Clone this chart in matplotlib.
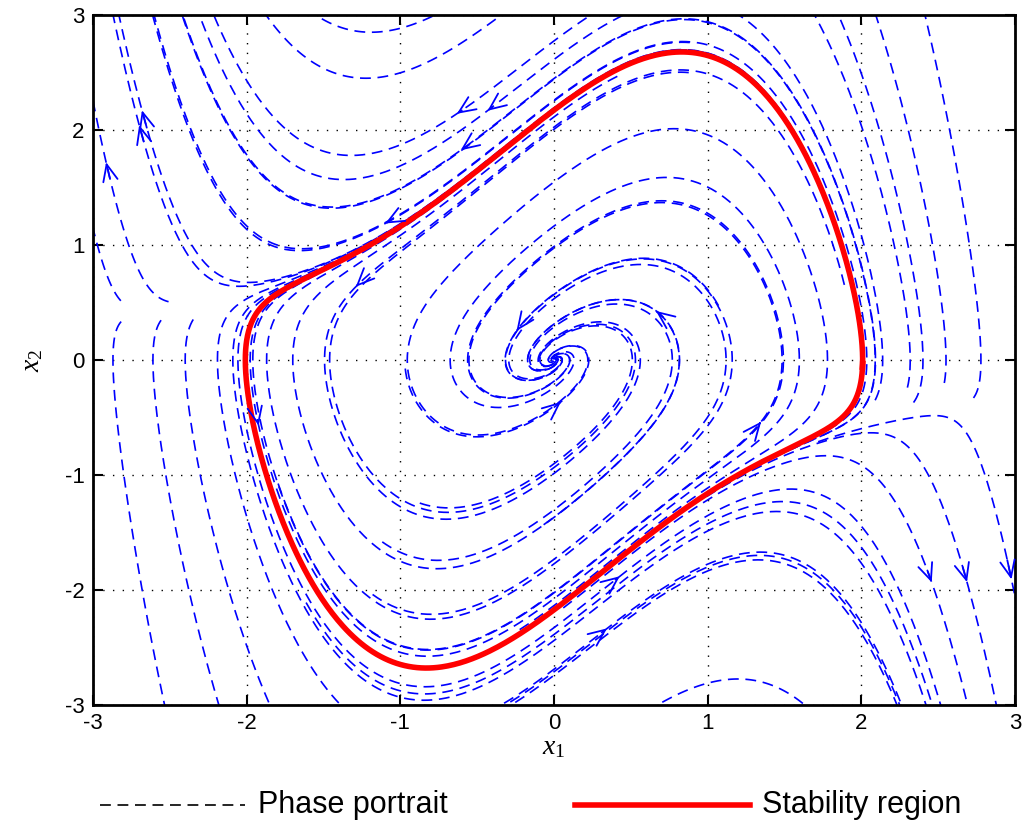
import numpy as np
import matplotlib.pyplot as plt
from matplotlib.lines import Line2D

plt.rcParams['font.family'] = ['Liberation Sans', 'DejaVu Sans']
plt.rcParams['mathtext.fontset'] = 'custom'
plt.rcParams['mathtext.it'] = 'Liberation Serif:italic'
plt.rcParams['mathtext.rm'] = 'Liberation Serif'
plt.rcParams['axes.unicode_minus'] = False

# reversed Van der Pol system  x1' = -x2,  x2' = x1 - mu*(1 - x1^2)*x2
mu = 1.0

# trajectory seeds, with forward / backward time spans
seed_x1 = [-1.96, -1.87, -1.70, -1.46, 1.78, 1.12, 0.77, 0.51,
           -2.87, -2.61, -2.40, -2.19, -2.09, -2.95,
           -1.20, -1.22, -1.46, -1.59,
           -2.65, -2.67, -2.89, -0.60, -0.40, -0.58, -1.08,
           2.09, 2.30, 2.34, 2.54, 2.73,
           1.78, 2.17, 2.43, 2.66, 2.95,
           0.31, 0.40, 1.0, 1.0,
           -0.24, 0.67, 0.04, 1.34, -1.28, -1.93]
seed_x2 = [0.0, 0.0, 0.0, 0.0, 0.0, 0.0, 0.0, 0.0,
           0.0, 0.0, 0.0, 0.0, 0.0, 0.90,
           2.85, 2.45, 1.32, 0.97,
           2.02, 1.90, 1.58, 2.17, 2.20, 1.85, 1.20,
           -0.35, -0.24, -0.37, -0.20, -0.33,
           -2.0, -2.0, -1.83, -1.80, -1.74,
           -2.37, -1.91, -2.81, -1.80,
           0.26, 0.42, -0.37, -0.55, 0.65, -0.52]
t_back = [2.0, 2.0, 2.0, 2.0, 2.0, 2.0, 2.0, 2.0,
          0.25, 0.25, 0.25, 1.5, 1.5, 0.2,
          6.0, 6.0, 6.0, 6.0,
          6.0, 6.0, 0.5, 6.0, 6.0, 6.0, 1.0,
          0.0, 0.0, 0.0, 0.0, 0.0,
          2.0, 2.0, 2.0, 2.0, 2.0,
          2.0, 2.0, 2.0, 2.0,
          2.0, 2.0, 2.0, 2.0, 2.0, 2.0]
t_fwd = [20.0] * len(seed_x1)
arrow = [0, 0, 0, 0, 0, 0, 0, 0,
         0, 0, 0, 0, 0, 0,
         0, 0, 0, 0,
         1, 1, 1, 1, 1, 1, 1,
         0, 0, 0, 0, 0,
         0, 0, 1, 1, 1,
         1, 1, 0, 0,
         1, 1, 1, 1, 1, 1]


def field(x1, x2):
    return -x2, x1 - mu * (1 - x1 ** 2) * x2


def trace(x1, x2, t_span, dt):
    xs, ys = [x1], [x2]
    n = int(t_span / abs(dt))
    for _ in range(n):
        k1 = field(x1, x2)
        k2 = field(x1 + dt / 2 * k1[0], x2 + dt / 2 * k1[1])
        k3 = field(x1 + dt / 2 * k2[0], x2 + dt / 2 * k2[1])
        k4 = field(x1 + dt * k3[0], x2 + dt * k3[1])
        x1 = x1 + dt / 6 * (k1[0] + 2 * k2[0] + 2 * k3[0] + k4[0])
        x2 = x2 + dt / 6 * (k1[1] + 2 * k2[1] + 2 * k3[1] + k4[1])
        xs.append(x1)
        ys.append(x2)
        if abs(x1) > 3.05 or abs(x2) > 3.05 or x1 ** 2 + x2 ** 2 < 1e-4:
            break
    return np.array(xs), np.array(ys)


fig = plt.figure(figsize=(10.32, 8.27), dpi=100)
ax = fig.add_axes([0.0901, 0.1475, 0.8934, 0.8344])

for i in range(len(seed_x1)):
    bx, by = trace(seed_x1[i], seed_x2[i], t_back[i], -0.005)
    fx, fy = trace(seed_x1[i], seed_x2[i], t_fwd[i], 0.005)
    px = np.concatenate([bx[::-1], fx[1:]])
    py = np.concatenate([by[::-1], fy[1:]])
    ax.plot(px, py, color='b', lw=1.2, dashes=(6.5, 4))
    if arrow[i] and len(fx) > 3:
        ax.annotate('', xy=(fx[3], fy[3]), xytext=(fx[0], fy[0]),
                    arrowprops=dict(arrowstyle='->,head_length=0.8,head_width=0.35',
                                    mutation_scale=15, color='b', lw=1.3,
                                    shrinkA=0, shrinkB=0))

# stability region: limit cycle of the Van der Pol oscillator
cx, cy = trace(2.0, 0.0, 40, -0.005)
n_per = int(6.663 / 0.005) + 5
ax.plot(cx[-n_per:], cy[-n_per:], color='r', lw=4)

ax.set_xlim(-3, 3)
ax.set_ylim(-3, 3)
ax.set_xticks(range(-3, 4))
ax.set_yticks(range(-3, 4))
ax.grid(True, color='k', linestyle=(0, (1, 6)), lw=1)
ax.tick_params(direction='in', length=7, width=1.5, labelsize=16,
               top=True, right=True, pad=6)
for s in ax.spines.values():
    s.set_linewidth(2)
ax.set_xlabel('$x_1$', fontsize=20, labelpad=0)
ax.set_ylabel('$x_2$', fontsize=20, labelpad=14)

# legend drawn under the axes
fig.add_artist(Line2D([0.097, 0.237], [0.027, 0.027], color='k', lw=1.2,
                      dashes=(6.5, 4), transform=fig.transFigure))
fig.text(0.25, 0.027, 'Phase portrait', fontsize=22, va='center')
fig.add_artist(Line2D([0.557, 0.727], [0.027, 0.027], color='r', lw=4,
                      transform=fig.transFigure))
fig.text(0.738, 0.027, 'Stability region', fontsize=22, va='center')

fig.savefig('out.png', dpi=100)
